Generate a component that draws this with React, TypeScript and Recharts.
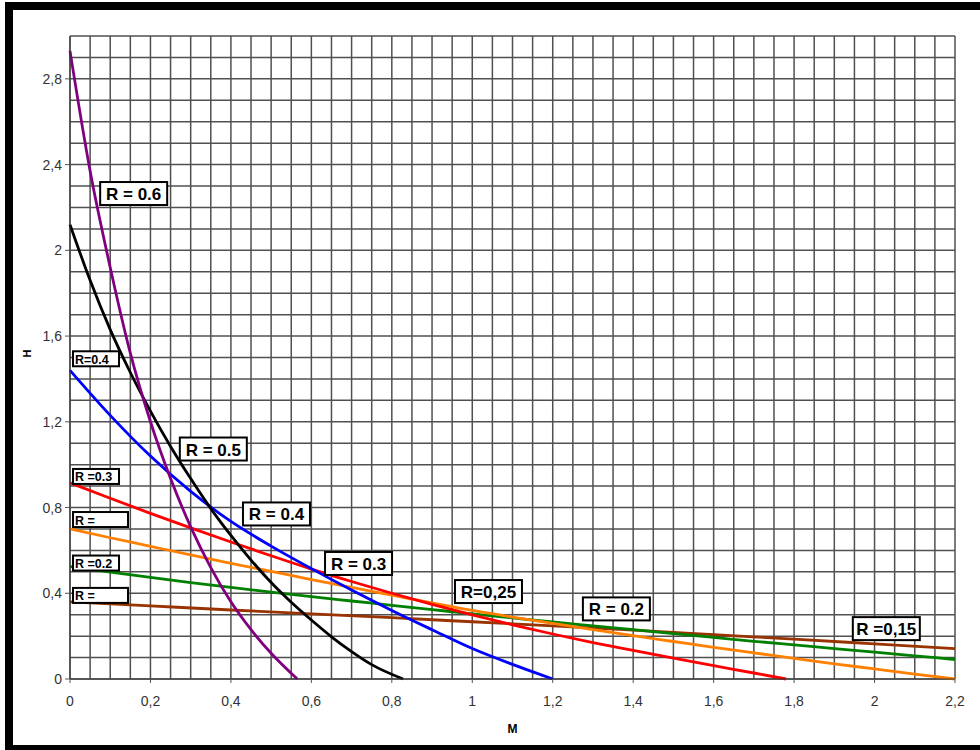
import React from "react";
import {
  LineChart,
  Line,
  XAxis,
  YAxis,
  CartesianGrid,
  ReferenceDot,
} from "recharts";

// M values on the x axis, H values on the y axis, one curve per R
const r06M = [0, 0.05, 0.1, 0.15, 0.2, 0.25, 0.3, 0.35, 0.4, 0.45, 0.5, 0.565];
const r06H = [2.93, 2.37, 1.92, 1.52, 1.2, 0.935, 0.71, 0.52, 0.36, 0.23, 0.12, 0];

const r05M = [0, 0.05, 0.1, 0.15, 0.2, 0.25, 0.3, 0.35, 0.4, 0.45, 0.5, 0.55, 0.6, 0.65, 0.7, 0.75, 0.828];
const r05H = [2.12, 1.86, 1.63, 1.43, 1.25, 1.085, 0.935, 0.795, 0.67, 0.555, 0.45, 0.358, 0.275, 0.197, 0.128, 0.067, 0];

const r04M = [0, 0.1, 0.2, 0.3, 0.4, 0.5, 0.6, 0.7, 0.8, 0.9, 1.0, 1.1, 1.2];
const r04H = [1.44, 1.23, 1.04, 0.875, 0.735, 0.62, 0.515, 0.415, 0.32, 0.23, 0.142, 0.068, 0];

const r03M = [0, 0.1, 0.2, 0.3, 0.4, 0.5, 0.6, 0.7, 0.8, 0.9, 1.0, 1.1, 1.2, 1.3, 1.4, 1.5, 1.6, 1.7, 1.78];
const r03H = [0.915, 0.843, 0.773, 0.705, 0.639, 0.575, 0.513, 0.455, 0.4, 0.348, 0.299, 0.253, 0.21, 0.17, 0.133, 0.097, 0.062, 0.028, 0];

const r025M = [0, 0.1, 0.2, 0.3, 0.4, 0.5, 0.6, 0.7, 0.8, 0.9, 1.0, 1.1, 1.2, 1.3, 1.4, 1.5, 1.6, 1.7, 1.8, 1.9, 2.0, 2.1, 2.2];
const r025H = [0.7, 0.659, 0.619, 0.579, 0.54, 0.502, 0.464, 0.427, 0.391, 0.355, 0.32, 0.289, 0.259, 0.23, 0.202, 0.175, 0.148, 0.122, 0.096, 0.071, 0.047, 0.023, 0];

const r02M = [0, 0.1, 0.2, 0.3, 0.4, 0.5, 0.6, 0.7, 0.8, 0.9, 1.0, 1.1, 1.2, 1.3, 1.4, 1.5, 1.6, 1.7, 1.8, 1.9, 2.0, 2.1, 2.2];
const r02H = [0.525, 0.499, 0.474, 0.45, 0.427, 0.405, 0.384, 0.364, 0.344, 0.324, 0.304, 0.285, 0.266, 0.248, 0.23, 0.212, 0.194, 0.176, 0.159, 0.142, 0.125, 0.108, 0.091];

const r015M = [0, 0.2, 0.4, 0.6, 0.8, 1.0, 1.2, 1.4, 1.6, 1.8, 2.0, 2.2];
const r015H = [0.36, 0.341, 0.322, 0.304, 0.286, 0.267, 0.248, 0.228, 0.207, 0.186, 0.164, 0.142];

// axis ticks double as grid lines: every 0.05 on M and 0.1 on H,
// labels only every 0.2 on M and 0.4 on H
const gridX = Array.from({ length: 45 }, (_, i) => +(i * 0.05).toFixed(2));
const gridY = Array.from({ length: 31 }, (_, i) => +(i * 0.1).toFixed(1));
const X_LABEL_STEP = 0.2;
const Y_LABEL_STEP = 0.4;

// boxed curve labels, anchored at the left edge / vertical centre of the box
const labels = [
  { text: "R = 0.6", m: 0.075, h: 2.265, kind: "big" },
  { text: "R = 0.5", m: 0.273, h: 1.073, kind: "big" },
  { text: "R = 0.4", m: 0.43, h: 0.77, kind: "big" },
  { text: "R = 0.3", m: 0.634, h: 0.539, kind: "big" },
  { text: "R=0,25", m: 0.957, h: 0.408, kind: "big" },
  { text: "R = 0.2", m: 1.275, h: 0.327, kind: "big" },
  { text: "R =0,15", m: 1.946, h: 0.235, kind: "big" },
  { text: "R=0.4", m: 0.0075, h: 1.494, kind: "small" },
  { text: "R =0.3", m: 0.0075, h: 0.945, kind: "small" },
  { text: "R =", m: 0.0075, h: 0.744, kind: "stub" },
  { text: "R =0.2", m: 0.0075, h: 0.541, kind: "small" },
  { text: "R =", m: 0.0075, h: 0.39, kind: "stub" },
];

const BOX: Record<string, { w: number; h: number; fs: number }> = {
  big: { w: 67, h: 23, fs: 17 },
  small: { w: 46, h: 15, fs: 12.5 },
  stub: { w: 55, h: 15, fs: 12.5 },
};

const series = [
  { name: "R=0.15", m: r015M, h: r015H, color: "#993300" },
  { name: "R=0.2", m: r02M, h: r02H, color: "#008000" },
  { name: "R=0.25", m: r025M, h: r025H, color: "#ff8000" },
  { name: "R=0.3", m: r03M, h: r03H, color: "#ff0000" },
  { name: "R=0.4", m: r04M, h: r04H, color: "#0000ff" },
  { name: "R=0.5", m: r05M, h: r05H, color: "#000000" },
  { name: "R=0.6", m: r06M, h: r06H, color: "#800080" },
];

const FONT = "'Liberation Sans', Arial, sans-serif";
const TICK_SIZE = 5;
const X_TICK_MARGIN = 12;
const Y_TICK_MARGIN = 3;

const isStep = (v: number, step: number) => Math.abs(v / step - Math.round(v / step)) < 1e-6;
const comma = (v: number) => String(+v.toFixed(2)).replace(".", ",");

function XTick({ x, y, payload }: any) {
  const v = payload.value;
  if (!isStep(v, X_LABEL_STEP)) return null;
  const axisY = y - TICK_SIZE - X_TICK_MARGIN;
  return (
    <g>
      <line x1={x} x2={x} y1={axisY} y2={axisY + 4} stroke="#555" />
      <text x={x} y={y} dy="0.71em" textAnchor="middle" fill="#333" fontSize={14} fontFamily={FONT}>
        {comma(v)}
      </text>
    </g>
  );
}

function YTick({ x, y, payload }: any) {
  const v = payload.value;
  if (!isStep(v, Y_LABEL_STEP) || v > 2.9) return null;
  const lineX = x + Y_TICK_MARGIN;
  return (
    <g>
      <line x1={lineX} x2={lineX + TICK_SIZE} y1={y} y2={y} stroke="#555" />
      <text x={x} y={y} dy="0.355em" textAnchor="end" fill="#333" fontSize={14} fontFamily={FONT}>
        {comma(v)}
      </text>
    </g>
  );
}

function BoxLabel({ cx, cy, text, kind }: any) {
  const b = BOX[kind];
  if (cx == null || cy == null) return null;
  const big = kind === "big";
  return (
    <g>
      <rect x={cx} y={cy - b.h / 2} width={b.w} height={b.h} fill="#fff" stroke="#000" strokeWidth={2} />
      <text
        x={big ? cx + b.w / 2 : cx + 2}
        y={cy + 1}
        textAnchor={big ? "middle" : "start"}
        dominantBaseline="central"
        fontFamily={FONT}
        fontWeight="bold"
        fontSize={b.fs}
        fill="#000"
      >
        {text}
      </text>
    </g>
  );
}

export default function App() {
  return (
    <div style={{ position: "absolute", left: 0, top: 0, width: 980, height: 750, overflow: "hidden", background: "#fff" }}>
      <div
        style={{
          position: "absolute",
          left: 5,
          top: 2,
          width: 1000,
          height: 751,
          border: "8px solid #000",
          boxSizing: "border-box",
        }}
      />
      <div style={{ position: "absolute", left: 0, top: 0 }}>
        <LineChart width={980} height={750} margin={{ top: 36, right: 25, bottom: 17, left: 30 }}>
          <CartesianGrid stroke="#505050" strokeWidth={1.5} />
          <XAxis
            type="number"
            dataKey="m"
            domain={[0, 2.2]}
            ticks={gridX}
            interval={0}
            height={54}
            tickSize={TICK_SIZE}
            tickMargin={X_TICK_MARGIN}
            tickLine={false}
            axisLine={{ stroke: "#333" }}
            tick={<XTick />}
            label={{ value: "M", position: "insideBottom", offset: 0, fill: "#000", fontSize: 12, fontWeight: "bold", fontFamily: FONT }}
          />
          <YAxis
            type="number"
            dataKey="h"
            domain={[0, 3]}
            ticks={gridY}
            interval={0}
            width={40}
            tickSize={TICK_SIZE}
            tickMargin={Y_TICK_MARGIN}
            tickLine={false}
            axisLine={{ stroke: "#333" }}
            tick={<YTick />}
            label={{ value: "H", angle: -90, position: "insideLeft", offset: -3, fill: "#000", fontSize: 11, fontWeight: "bold", fontFamily: FONT }}
          />
          {series.map((s) => (
            <Line
              key={s.name}
              name={s.name}
              data={s.m.map((m, i) => ({ m, h: s.h[i] }))}
              dataKey="h"
              type="monotone"
              stroke={s.color}
              strokeWidth={2.8}
              dot={false}
              activeDot={false}
              isAnimationActive={false}
            />
          ))}
          {labels.map((l, i) => (
            <ReferenceDot
              key={i}
              x={l.m}
              y={l.h}
              r={0}
              ifOverflow="visible"
              shape={(p: any) => <BoxLabel cx={p.cx} cy={p.cy} text={l.text} kind={l.kind} />}
            />
          ))}
        </LineChart>
      </div>
    </div>
  );
}
